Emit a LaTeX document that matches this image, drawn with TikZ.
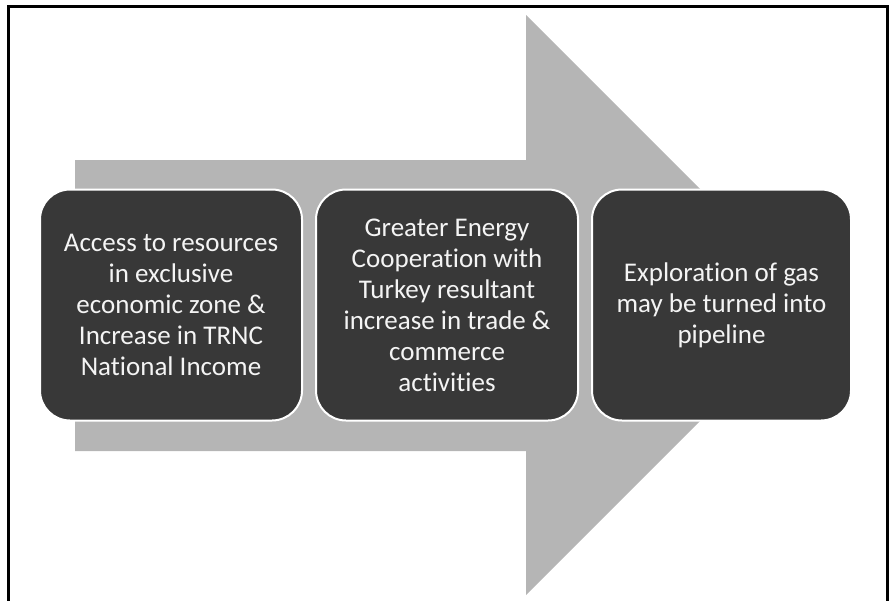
\documentclass[tikz,border=0pt]{standalone}
\usepackage{fontspec}
\setmainfont[Ligatures=NoCommon]{Carlito}
\begin{document}
\begin{tikzpicture}[x=1pt,y=-1pt,
  stagebox/.style={fill=boxgray, draw=white, line width=2pt, rounded corners=30pt,
    minimum width=262pt, minimum height=231pt, inner sep=0pt,
    text=textwhite, align=center, font=\fontsize{27}{31}\selectfont},
]
\definecolor{boxgray}{HTML}{383838}
\definecolor{arrowgray}{HTML}{B5B5B5}
\definecolor{textwhite}{HTML}{F4F4F4}
\useasboundingbox (0,0) rectangle (891,600);
% big arrow
\fill[arrowgray] (75,160) -- (526,160) -- (526,15) -- (816,305) -- (526,595) -- (526,451) -- (75,451) -- cycle;
% frame
\draw[line width=3pt] (8,601) -- (8,6) -- (887,6) -- (887,601);
% stages
\node[stagebox] (s1) at (171,305) {Access to resources\\in exclusive\\economic zone \&\\Increase in TRNC\\National Income};
\node[stagebox] (s2) at (447,305) {Greater Energy\\Cooperation with\\Turkey resultant\\increase in trade \&\\commerce\\activities};
\node[stagebox, minimum width=259pt] (s3) at (721.5,305) {Exploration of gas\\may be turned into\\pipeline};
\end{tikzpicture}
\end{document}
